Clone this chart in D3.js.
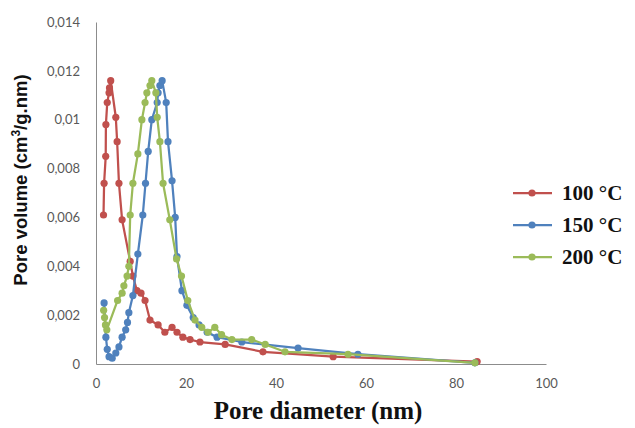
<!DOCTYPE html>
<html><head><meta charset="utf-8">
<script src="https://cdn.jsdelivr.net/npm/d3@7"></script>
<style>
html,body{margin:0;padding:0;background:#fff;}
svg{display:block;}
</style></head>
<body>
<svg id="chart" width="635" height="428"></svg>
<script>
// ---- data ----
const seriesNames = ["100 °C", "150 °C", "200 °C"];
const seriesColors = ["#C0504D", "#4F81BD", "#9BBB59"];

const d100 = [1.67, 1.8, 2.16, 2.2, 2.5, 2.9, 3.0, 3.27, 4.4, 4.7, 5.1, 5.8, 7.6, 8.2, 9.1, 10.0, 10.9, 12.0, 13.8, 15.3, 16.9, 18.0, 19.3, 20.9, 23.1, 28.7, 37.1, 52.7, 84.7];
const v100 = [0.0061, 0.0074, 0.0085, 0.0098, 0.0107, 0.0111, 0.0113, 0.0116, 0.0101, 0.0091, 0.0074, 0.0059, 0.0042, 0.0036, 0.0030, 0.0029, 0.0026, 0.0018, 0.0016, 0.0013, 0.0015, 0.0013, 0.0011, 0.0010, 0.0009, 0.0008, 0.0005, 0.0003, 0.0001];

const d150 = [1.8, 2.2, 2.5, 2.9, 3.6, 4.4, 5.1, 5.8, 6.6, 7.0, 7.3, 8.2, 9.3, 10.4, 11.0, 11.6, 12.4, 13.6, 13.8, 14.2, 14.7, 15.6, 16.0, 16.9, 17.6, 18.0, 19.1, 20.2, 21.6, 22.9, 24.7, 26.9, 32.4, 44.9, 58.2, 84.2];
const v150 = [0.0025, 0.0011, 0.0006, 0.0003, 0.00024, 0.00045, 0.0007, 0.0011, 0.0014, 0.0017, 0.0021, 0.0028, 0.0045, 0.0061, 0.0074, 0.0087, 0.0100, 0.0107, 0.0111, 0.0114, 0.0116, 0.0107, 0.0091, 0.0075, 0.0060, 0.0044, 0.0030, 0.0024, 0.0019, 0.0016, 0.0013, 0.0011, 0.0009, 0.00065, 0.0004, 0.00005];

const d200 = [1.7, 1.9, 2.1, 2.4, 4.8, 5.8, 6.2, 6.9, 7.3, 7.6, 8.2, 9.3, 10.2, 10.9, 11.3, 12.0, 12.4, 13.3, 13.6, 14.2, 14.9, 16.4, 17.9, 19.0, 20.4, 22.0, 23.5, 24.9, 26.4, 27.9, 30.2, 34.6, 37.6, 42.0, 56.0, 84.2];
const v200 = [0.0022, 0.0019, 0.0016, 0.0014, 0.0026, 0.0029, 0.0032, 0.0036, 0.0040, 0.0061, 0.0074, 0.0086, 0.0100, 0.0107, 0.0111, 0.0114, 0.0116, 0.0111, 0.0101, 0.0091, 0.0074, 0.0059, 0.0043, 0.0036, 0.0026, 0.0018, 0.0015, 0.0013, 0.0015, 0.0012, 0.0010, 0.0010, 0.0008, 0.0005, 0.0004, 0.00005];

const xTicks = [0, 20, 40, 60, 80, 100];
const yTicks = [0, 0.002, 0.004, 0.006, 0.008, 0.01, 0.012, 0.014];
const xTitle = "Pore diameter (nm)";
const yTitleMain = "Pore volume (cm";
const yTitleSup = "3";
const yTitleEnd = "/g.nm)";

// ---- drawing ----
const svg = d3.select("#chart");
const x = d3.scaleLinear().domain([0, 100]).range([96, 546]);
const y = d3.scaleLinear().domain([0, 0.014]).range([364, 22]);

const fmtY = v => (v === 0 ? "0" : String(+v.toFixed(3)).replace(".", ","));

// axes
const xAxis = d3.axisBottom(x).tickValues(xTicks).tickSize(0).tickPadding(15);
const gx = svg.append("g").attr("transform", `translate(0,${y(0)})`).call(xAxis);
gx.select(".domain").attr("stroke", "#8c8c8c").attr("stroke-width", 1);
gx.selectAll("text").attr("fill", "#595959").attr("font-family", "Lato, 'Open Sans', sans-serif").attr("font-size", 13);

const yAxis = d3.axisLeft(y).tickValues(yTicks).tickSize(0).tickPadding(16).tickFormat(fmtY);
const gy = svg.append("g").attr("transform", `translate(${x(0)},0)`).call(yAxis);
gy.select(".domain").attr("stroke", "#8c8c8c").attr("stroke-width", 1);
gy.selectAll("text").attr("fill", "#595959").attr("font-family", "Lato, 'Open Sans', sans-serif").attr("font-size", 13);

// series
const allSeries = [
  {name: seriesNames[0], color: seriesColors[0], d: d100, v: v100},
  {name: seriesNames[1], color: seriesColors[1], d: d150, v: v150},
  {name: seriesNames[2], color: seriesColors[2], d: d200, v: v200}
];
const line = d3.line().x(p => x(p[0])).y(p => y(p[1]));
allSeries.forEach(s => {
  const pts = s.d.map((d, i) => [d, s.v[i]]);
  const g = svg.append("g");
  g.append("path").attr("d", line(pts)).attr("fill", "none")
    .attr("stroke", s.color).attr("stroke-width", 2.25).attr("stroke-linejoin", "round");
  g.selectAll("circle").data(pts).join("circle")
    .attr("cx", p => x(p[0])).attr("cy", p => y(p[1])).attr("r", 3.6)
    .attr("fill", s.color);
});

// axis titles
svg.append("text").attr("x", 318).attr("y", 419).attr("text-anchor", "middle")
  .attr("font-family", "'Liberation Serif', 'Times New Roman', serif").attr("font-weight", "bold")
  .attr("font-size", 25).attr("fill", "#111").text(xTitle);

const yt = svg.append("text").attr("transform", "translate(27,180) rotate(-90)")
  .attr("text-anchor", "middle")
  .attr("font-family", "'Liberation Sans', Arial, sans-serif").attr("font-weight", "bold")
  .attr("font-size", 18.5).attr("fill", "#111");
yt.append("tspan").text(yTitleMain);
yt.append("tspan").attr("font-size", 12).attr("dy", -7).text(yTitleSup);
yt.append("tspan").attr("dy", 7).text(yTitleEnd);

// legend
const legY = [193, 225, 257];
allSeries.forEach((s, i) => {
  const g = svg.append("g").attr("transform", `translate(0,${legY[i]})`);
  g.append("line").attr("x1", 513).attr("x2", 552).attr("y1", 0).attr("y2", 0)
    .attr("stroke", s.color).attr("stroke-width", 2.25);
  g.append("circle").attr("cx", 532).attr("cy", 0).attr("r", 3.6).attr("fill", s.color);
  g.append("text").attr("x", 562).attr("y", 7)
    .attr("font-family", "'Liberation Serif', 'Times New Roman', serif").attr("font-weight", "bold")
    .attr("font-size", 21).attr("fill", "#111").text(s.name);
});
</script>
</body></html>
